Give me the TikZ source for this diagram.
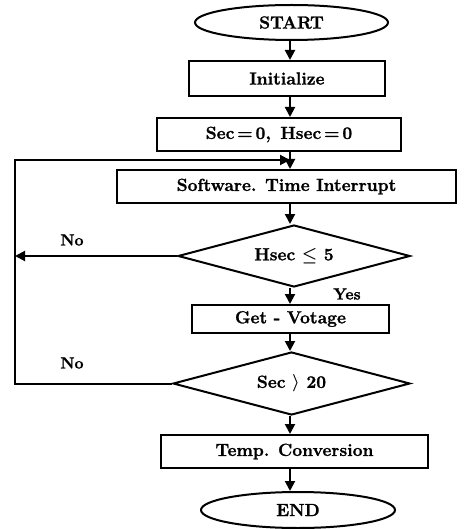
\documentclass[tikz,border=0pt]{standalone}
\usepackage{fontspec}
\setmainfont{Latin Modern Roman}[BoldFeatures={FakeBold=1.3}]
\usetikzlibrary{shapes.geometric,arrows.meta}
\begin{document}
\begin{tikzpicture}[x=1pt,y=-1pt,
  every node/.style={font=\fontsize{17.5}{20}\selectfont\bfseries\boldmath, inner sep=0pt},
  box/.style={draw, line width=2pt, rectangle},
  term/.style={draw, line width=2pt, ellipse},
  dec/.style={draw, line width=2pt, diamond, aspect=3.75},
  lbl/.style={font=\fontsize{16}{19}\selectfont\bfseries},
  conn/.style={line width=2pt, -{Triangle[width=10pt,length=10pt]}}]
\useasboundingbox (0,0) rectangle (463,529);
\node[term, minimum width=193pt, minimum height=35pt] (start) at (291.5,22.5) {START};
\node[box, minimum width=196pt, minimum height=35pt] (init) at (287,78.5) {Initialize};
\node[box, minimum width=244pt, minimum height=33pt] (zero) at (279,134.5) {Sec\,=\,0,\, Hsec\,=\,0};
\node[box, minimum width=339pt, minimum height=33pt] (soft) at (286.5,186.5) {Software. Time Interrupt};
\node[dec, minimum width=232pt, minimum height=62pt] (hsec) at (294,256) {Hsec $\leq$ 5};
\node[box, minimum width=197pt, minimum height=28pt] (volt) at (290.5,319) {Get - Votage};
\node[dec, minimum width=237pt, minimum height=63pt] (sec) at (291.5,383.5) {Sec $\rangle$ 20};
\node[box, minimum width=267pt, minimum height=33pt] (temp) at (294.5,451.5) {Temp. Conversion};
\node[term, minimum width=194pt, minimum height=36pt] (end) at (298,510) {END};
\coordinate (c) at (290,0);
\coordinate (lx) at (15,0);
\coordinate (top) at (290,160);
\node[lbl] (no1) at (72,240) {No};
\node[lbl] (no2) at (72,363) {No};
\node[lbl] (yes) at (347,294) {Yes};
\draw[conn] (start.south -| c) -- (init.north -| c);
\draw[conn] (init.south -| c) -- (zero.north -| c);
\draw[conn] (zero.south -| c) -- (soft.north -| c);
\draw[conn] (soft.south -| c) -- (hsec.north -| c);
\draw[conn] (hsec.south -| c) -- (volt.north -| c);
\draw[conn] (volt.south -| c) -- (sec.north -| c);
\draw[conn] (sec.south -| c) -- (temp.north -| c);
\draw[conn] (temp.south -| c) -- (end.north -| c);
\draw[conn] (hsec.west) -- (hsec.west -| lx);
\draw[conn] (sec.west) -- (sec.west -| lx) -- (top -| lx) -- (top);
\end{tikzpicture}
\end{document}
